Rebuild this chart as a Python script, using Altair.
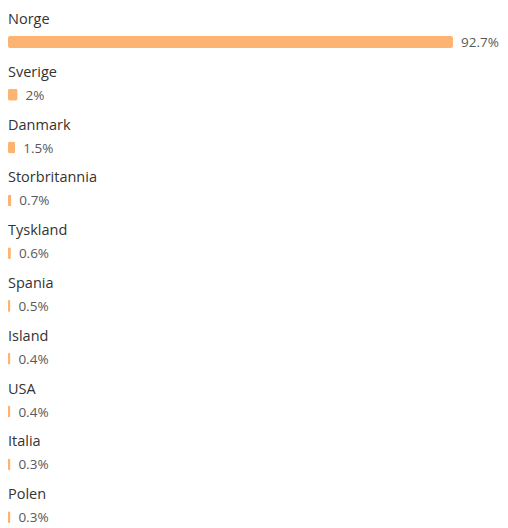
import altair as alt
import pandas as pd

countries = ["Norge", "Sverige", "Danmark", "Storbritannia", "Tyskland",
             "Spania", "Island", "USA", "Italia", "Polen"]
values = [92.7, 2, 1.5, 0.7, 0.6, 0.5, 0.4, 0.4, 0.3, 0.3]
labels = ["92.7%", "2%", "1.5%", "0.7%", "0.6%", "0.5%", "0.4%", "0.4%", "0.3%", "0.3%"]

df = pd.DataFrame({"country": countries, "value": values, "label": labels})

FONT = "Open Sans"

base = alt.Chart(df).transform_calculate(
    disp="max(datum.value, 0.5)"
).encode(
    y=alt.Y("country:N", sort=countries, axis=None,
            scale=alt.Scale(range=[7.6, 535.6], paddingInner=0, paddingOuter=0)),
)

xscale = alt.Scale(domain=[0, 92.7], range=[0, 445], nice=False, zero=True)

bars = base.mark_bar(height=12, cornerRadius=2, color="#FDB472").encode(
    x=alt.X("disp:Q", scale=xscale, axis=None),
)

names = base.mark_text(align="left", baseline="middle", dy=-22, font=FONT,
                       fontSize=14.5, color="#333333").encode(
    x=alt.value(0),
    text="country:N",
)

vals = base.mark_text(align="left", baseline="middle", dx=8, dy=1, font=FONT,
                      fontSize=13.5, color="#595959").encode(
    x=alt.X("disp:Q", scale=xscale, axis=None),
    text="label:N",
)

chart = alt.layer(bars, names, vals).properties(
    width=492, height=520,
    autosize=alt.AutoSizeParams(type="none"),
    padding=0,
).configure_view(stroke=None)

chart.save("out.html", embed_options={"renderer": "svg", "actions": False})
